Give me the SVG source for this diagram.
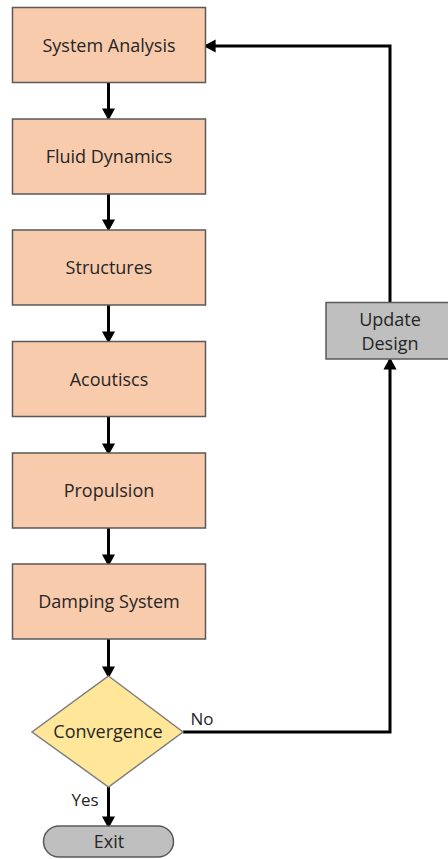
<svg xmlns="http://www.w3.org/2000/svg" width="448" height="859" viewBox="0 0 448 859">
  <style>
    .step rect { fill: #F8CBAD; stroke: #595959; stroke-width: 1.5; }
    .gray { fill: #BFBFBF; stroke: #595959; stroke-width: 1.5; }
    .dec { fill: #FFE699; stroke: #7F7F7F; stroke-width: 1.5; }
    text { font-family: "Open Sans", "Liberation Sans", sans-serif; font-size: 18px; fill: #262626; text-anchor: middle; }
    .edge { fill: none; stroke: #000; stroke-width: 3; }
  </style>
  <defs>
    <marker id="arrow" markerWidth="4" markerHeight="4.4" refX="3.2" refY="2.2" orient="auto" markerUnits="strokeWidth">
      <path d="M0,0 L4,2.2 L0,4.4 Z" fill="#000"/>
    </marker>
  </defs>

  <g id="connectors">
    <line class="edge" x1="108.5" y1="82" x2="108.5" y2="118" marker-end="url(#arrow)"/>
    <line class="edge" x1="108.5" y1="194" x2="108.5" y2="229" marker-end="url(#arrow)"/>
    <line class="edge" x1="108.5" y1="305" x2="108.5" y2="341" marker-end="url(#arrow)"/>
    <line class="edge" x1="108.5" y1="417" x2="108.5" y2="453" marker-end="url(#arrow)"/>
    <line class="edge" x1="108.5" y1="528" x2="108.5" y2="564" marker-end="url(#arrow)"/>
    <line class="edge" x1="108.5" y1="639" x2="108.5" y2="676" marker-end="url(#arrow)"/>
    <line class="edge" x1="108.5" y1="787" x2="108.5" y2="826" marker-end="url(#arrow)"/>
    <polyline class="edge" points="183,732 390,732 390,360" marker-end="url(#arrow)"/>
    <polyline class="edge" points="390,302 390,46 206,46" marker-end="url(#arrow)"/>
    <text x="202" y="725" style="font-size:17px">No</text>
    <text x="85" y="806" style="font-size:17px">Yes</text>
  </g>

  <g id="system-analysis" class="step">
    <rect x="12.5" y="7.5" width="193" height="75"/>
    <text x="109" y="52">System Analysis</text>
  </g>
  <g id="fluid-dynamics" class="step">
    <rect x="12.5" y="119" width="193" height="75"/>
    <text x="109" y="163">Fluid Dynamics</text>
  </g>
  <g id="structures" class="step">
    <rect x="12.5" y="230" width="193" height="75"/>
    <text x="109" y="274">Structures</text>
  </g>
  <g id="acoustics" class="step">
    <rect x="12.5" y="341.5" width="193" height="75"/>
    <text x="109" y="386">Acoutiscs</text>
  </g>
  <g id="propulsion" class="step">
    <rect x="12.5" y="453" width="193" height="75"/>
    <text x="109" y="497">Propulsion</text>
  </g>
  <g id="damping-system" class="step">
    <rect x="12.5" y="564" width="193" height="75"/>
    <text x="109" y="608">Damping System</text>
  </g>
  <g id="convergence">
    <polygon class="dec" points="108.5,676 183,732 108.5,787 32,732"/>
    <text x="108" y="738">Convergence</text>
  </g>
  <g id="exit">
    <rect class="gray" x="43.5" y="826" width="130" height="31" rx="15.5"/>
    <text x="109" y="848">Exit</text>
  </g>
  <g id="update-design">
    <rect class="gray" x="326" y="302.5" width="130" height="56.5"/>
    <text x="390" y="326">Update</text>
    <text x="390" y="350">Design</text>
  </g>
</svg>
